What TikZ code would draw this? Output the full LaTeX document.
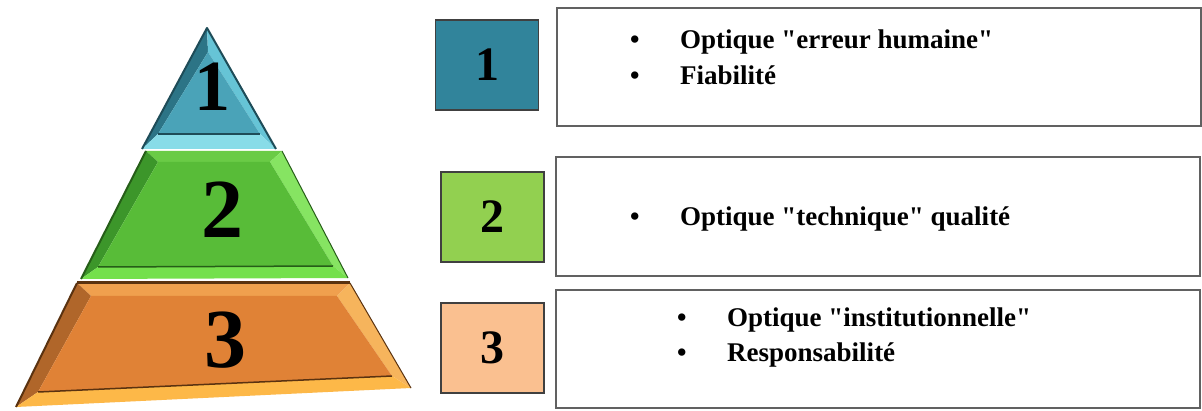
\documentclass[tikz,border=0pt]{standalone}
\usepackage{fontspec}
\setmainfont{Liberation Serif}
% a family without the TeX ligature mapping keeps straight double quotes
\newfontfamily\plainserif{Liberation Serif}
\begin{document}
\begin{tikzpicture}[x=1pt,y=-1pt,
  numsq/.style={draw=#1, line width=1.5pt, minimum width=103pt, minimum height=90pt,
    inner sep=0pt, font=\bfseries\fontsize{48}{48}\selectfont},
  infobox/.style={draw=black!62, line width=2pt, minimum width=644pt, minimum height=118pt, inner sep=0pt},
  bul/.style={anchor=base west, inner sep=0pt, font=\plainserif\bfseries\fontsize{27}{27}\selectfont},
  tiernum/.style={inner sep=0pt, font=\bfseries\fontsize{84}{84}\selectfont},
]
\definecolor{tealA}{HTML}{4AA3B8}
\definecolor{tealD}{HTML}{2C7486}
\definecolor{tealL}{HTML}{66C4D6}
\definecolor{tealB}{HTML}{88DCE8}
\definecolor{tealE}{HTML}{1E4C58}
\definecolor{grnA}{HTML}{58BC38}
\definecolor{grnT}{HTML}{6ACB46}
\definecolor{grnD}{HTML}{3C962A}
\definecolor{grnL}{HTML}{86E462}
\definecolor{grnB}{HTML}{74E04C}
\definecolor{grnE}{HTML}{265E18}
\definecolor{orA}{HTML}{E08236}
\definecolor{orT}{HTML}{F0A04E}
\definecolor{orD}{HTML}{B0662A}
\definecolor{orL}{HTML}{F6B45C}
\definecolor{orB}{HTML}{FDB848}
\definecolor{orE}{HTML}{5A3210}
\definecolor{sqone}{HTML}{31849B}
\definecolor{sqtwo}{HTML}{92D050}
\definecolor{sqthree}{HTML}{FAC090}

\useasboundingbox (0,0) rectangle (1202,411);
\fill[white] (0,0) rectangle (1202,411);

% ---------- pyramid, tier 1 (top triangle) ----------
\coordinate (p1a) at (207,28);  \coordinate (p1l) at (142,149); \coordinate (p1r) at (276,149);
\coordinate (q1a) at (208,52);  \coordinate (q1l) at (158,134); \coordinate (q1r) at (260,134);
\fill[tealD] (p1a) -- (q1a) -- (q1l) -- (p1l) -- cycle;
\fill[tealL] (p1a) -- (p1r) -- (q1r) -- (q1a) -- cycle;
\fill[tealB] (p1l) -- (q1l) -- (q1r) -- (p1r) -- cycle;
\fill[tealA] (q1a) -- (q1r) -- (q1l) -- cycle;
\draw[tealE, line width=1.2pt] (q1l) -- (q1r);
\draw[tealE, line width=2pt, line join=round] (p1l) -- (p1a) -- (p1r);

% ---------- pyramid, tier 2 ----------
\coordinate (p2a) at (146,151); \coordinate (p2b) at (282,151);
\coordinate (p2c) at (348,278); \coordinate (p2d) at (81,279);
\coordinate (q2a) at (158,162); \coordinate (q2b) at (270,162);
\coordinate (q2c) at (333,266); \coordinate (q2d) at (98,267);
\fill[grnT] (p2a) -- (p2b) -- (q2b) -- (q2a) -- cycle;
\fill[grnD] (p2a) -- (q2a) -- (q2d) -- (p2d) -- cycle;
\fill[grnL] (p2b) -- (p2c) -- (q2c) -- (q2b) -- cycle;
\fill[grnB] (p2d) -- (q2d) -- (q2c) -- (p2c) -- cycle;
\fill[grnA] (q2a) -- (q2b) -- (q2c) -- (q2d) -- cycle;
\draw[grnE, line width=1.5pt] (q2d) -- (q2c);
\draw[grnE, line width=2pt] (p2d) -- (p2a);
\draw[grnE, line width=1pt] (p2b) -- (p2c);

% ---------- pyramid, tier 3 ----------
\coordinate (p3a) at (77,283);  \coordinate (p3b) at (350,283);
\coordinate (p3c) at (411,388); \coordinate (p3d) at (16,407);
\coordinate (q3a) at (91,296);  \coordinate (q3b) at (337,296);
\coordinate (q3c) at (392,376); \coordinate (q3d) at (38,392);
\fill[orT] (p3a) -- (p3b) -- (q3b) -- (q3a) -- cycle;
\fill[orD] (p3a) -- (q3a) -- (q3d) -- (p3d) -- cycle;
\fill[orL] (p3b) -- (p3c) -- (q3c) -- (q3b) -- cycle;
\fill[orB] (p3d) -- (q3d) -- (q3c) -- (p3c) -- cycle;
\fill[orA] (q3a) -- (q3b) -- (q3c) -- (q3d) -- cycle;
\draw[orE, line width=3pt] (p3a) -- (p3b);
\draw[orE, line width=1.5pt] (q3d) -- (q3c);
\draw[orE, line width=2pt] (p3d) -- (p3a);
\draw[orE, line width=1pt] (p3b) -- (p3c);

% tier numbers
\node[tiernum, font=\bfseries\fontsize{72}{72}\selectfont] (t1) at (212,87) {1};
\node[tiernum] (t2) at (222,210) {2};
\node[tiernum] (t3) at (225,340) {3};

% ---------- numbered squares ----------
\node[numsq=black!75, fill=sqone]   (s1) at (487,65)    {1};
\node[numsq=black!75, fill=sqtwo]   (s2) at (492.5,217) {2};
\node[numsq=black!75, fill=sqthree] (s3) at (492.5,348) {3};

% ---------- description boxes ----------
\node[infobox] (b1) at (878.5,67)  {};
\node[infobox, minimum height=119pt] (b2) at (878,216.5) {};
\node[infobox] (b3) at (878,349)   {};

\node[bul] (b1d1) at (630,49) {•};
\node[bul] (b1l1) at (680,49) {Optique "erreur humaine"};
\node[bul] (b1d2) at (630,85) {•};
\node[bul] (b1l2) at (680,85) {Fiabilité};

\node[bul] (b2d1) at (630,226) {•};
\node[bul] (b2l1) at (680,226) {Optique "technique" qualité};

\node[bul] (b3d1) at (677,327) {•};
\node[bul] (b3l1) at (727,327) {Optique "institutionnelle"};
\node[bul] (b3d2) at (677,362) {•};
\node[bul] (b3l2) at (727,362) {Responsabilité};
\end{tikzpicture}
\end{document}
